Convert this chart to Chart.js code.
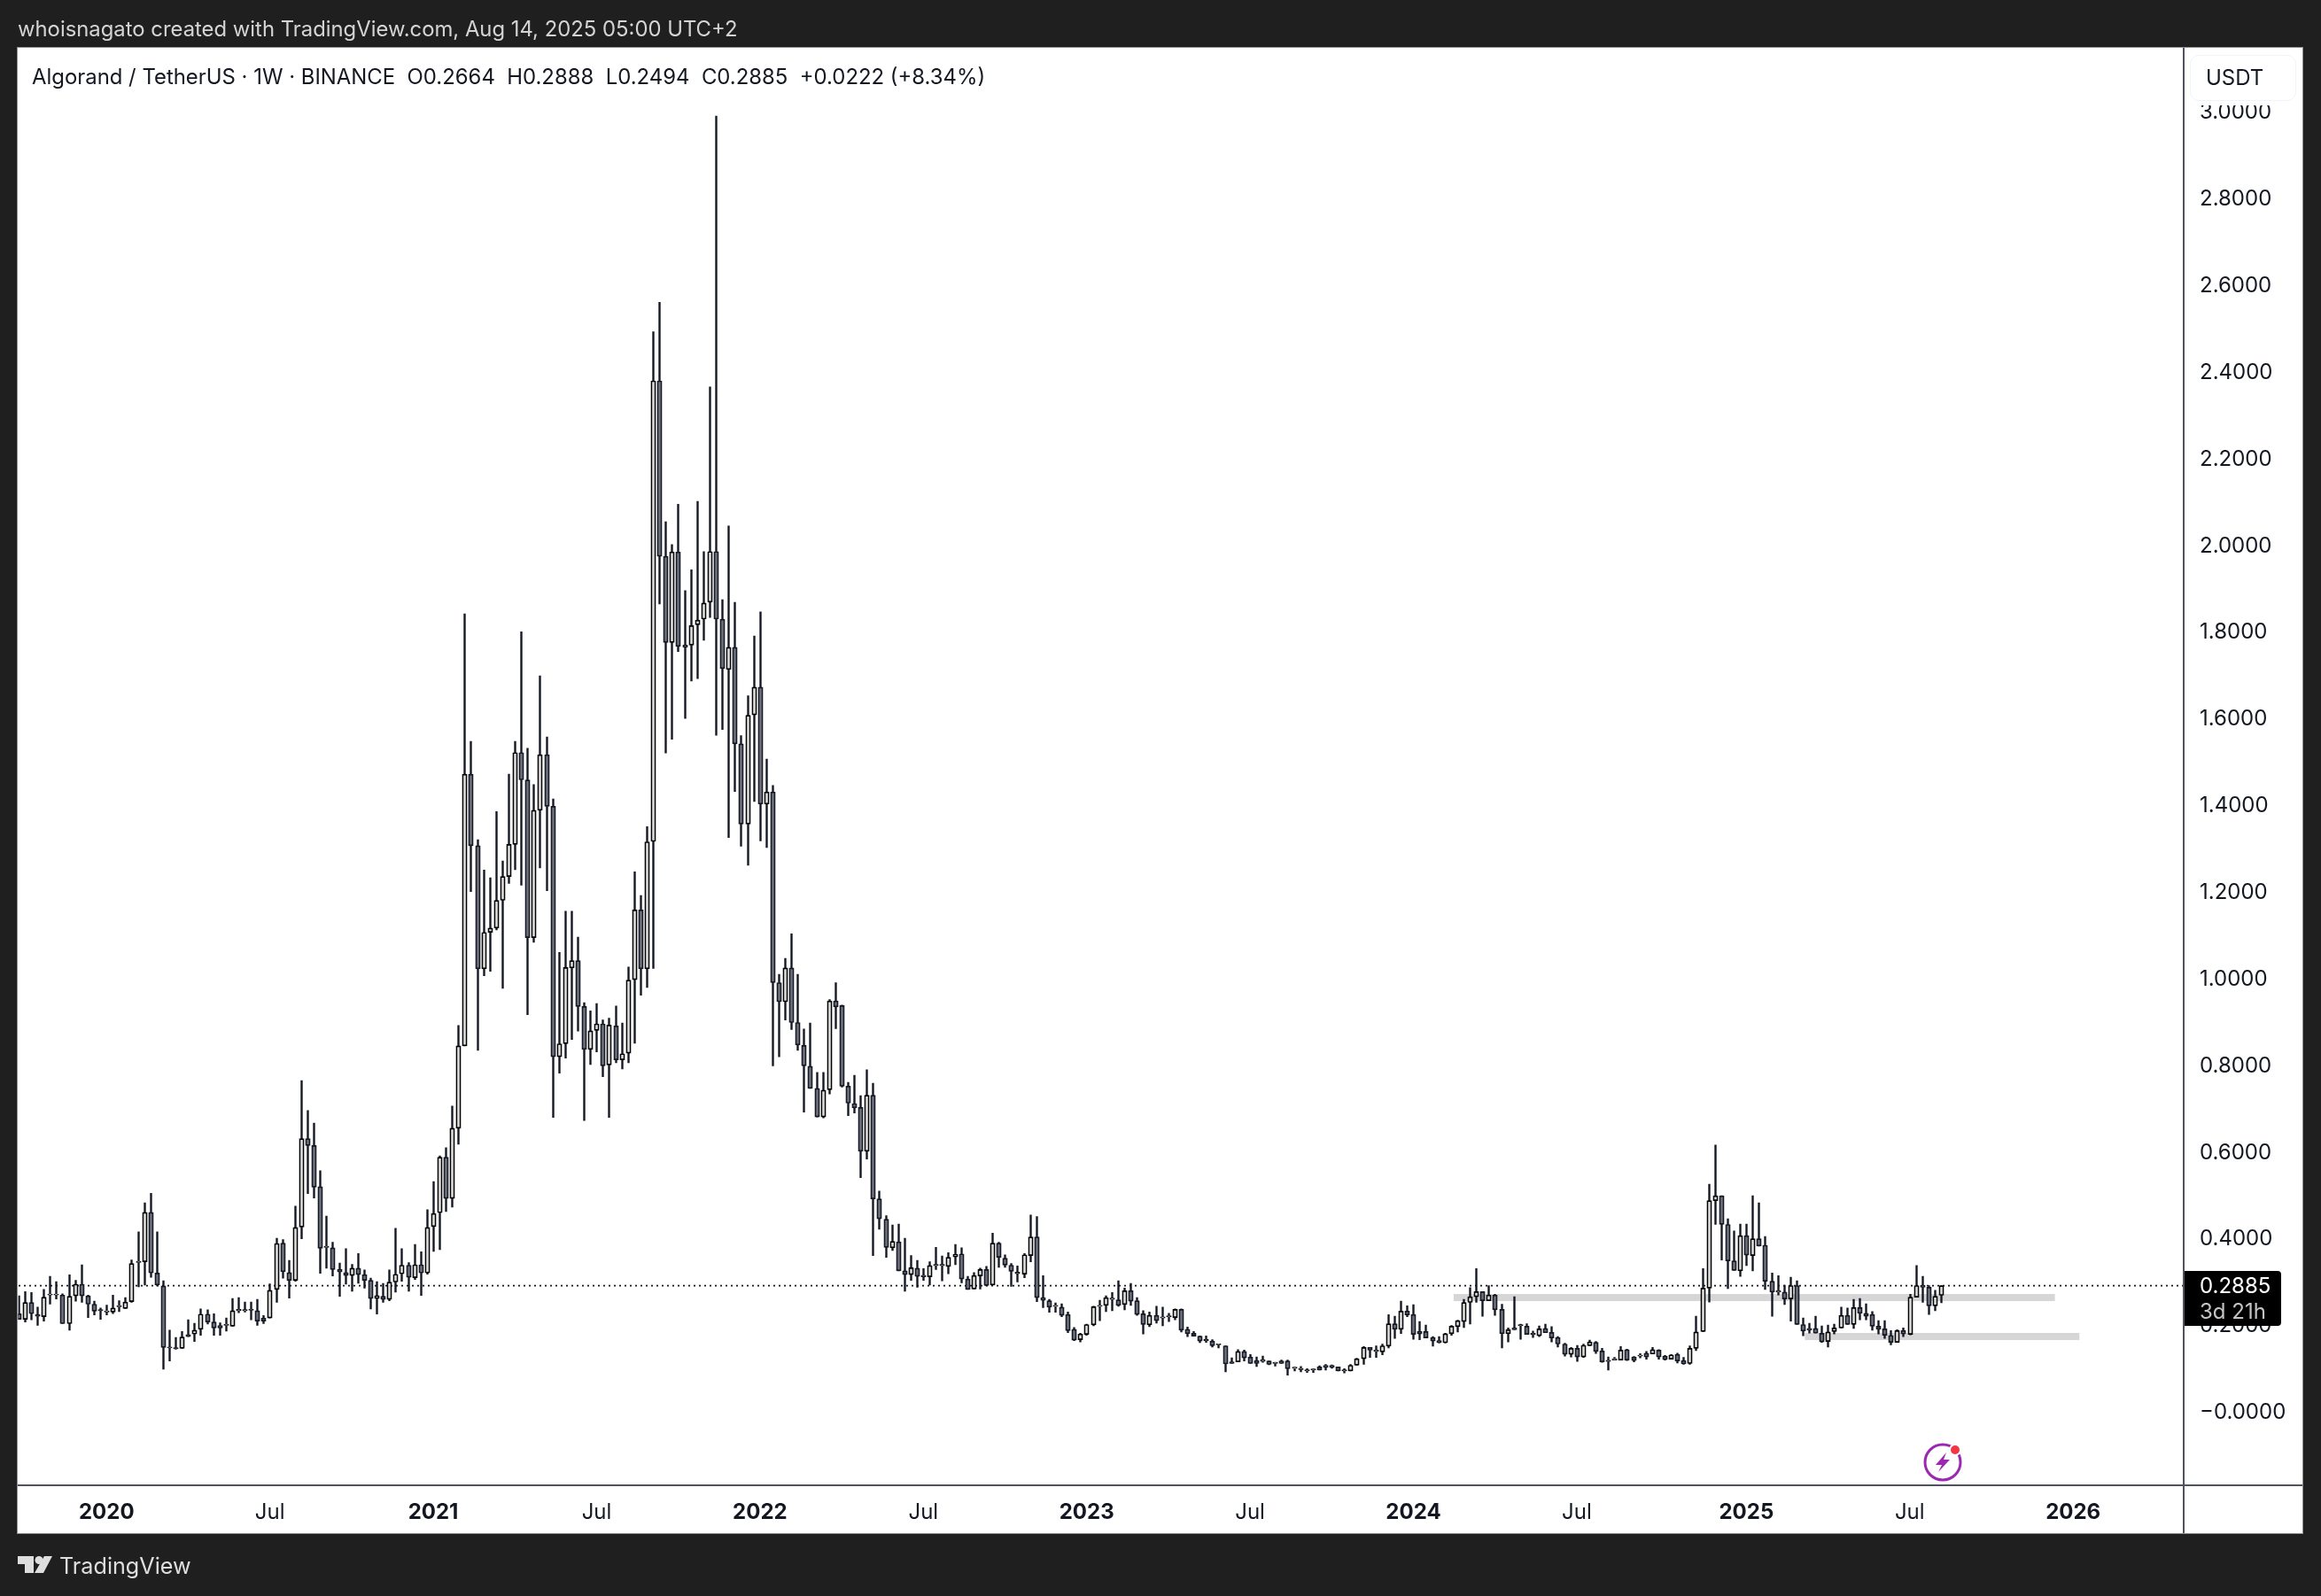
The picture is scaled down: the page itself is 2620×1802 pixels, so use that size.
<!DOCTYPE html>
<html><head><meta charset="utf-8">
<script src="https://cdn.jsdelivr.net/npm/chart.js@4"></script>
<style>
html,body{margin:0;padding:0;background:#1f1f1f;width:2620px;height:1802px;overflow:hidden}
body{position:relative;font-family:Inter,"Noto Sans",sans-serif}
.abs{position:absolute;white-space:pre}
canvas{position:absolute;left:0;top:0}
</style></head><body>
<div class="abs" style="left:20px;top:54px;width:2579px;height:1677px;background:#fff;box-shadow:0 0 0 1px #8f8f8f"></div>
<canvas id="c" width="2620" height="1802"></canvas>
<div class="abs" style="left:20px;top:1675.5px;width:2579px;height:2px;background:#50535e"></div>
<div class="abs" style="left:2464px;top:54px;width:2px;height:1677px;background:#50535e"></div>
<div class="abs" style="left:20px;top:17px;font-size:23.85px;line-height:32px;color:#d4d4d4">whoisnagato created with TradingView.com, Aug 14, 2025 05:00 UTC+2</div>
<div class="abs" style="left:36px;top:71px;font-size:23.9px;line-height:32px;color:#131722">Algorand / TetherUS · 1W · BINANCE  O0.2664  H0.2888  L0.2494  C0.2885  +0.0222 (+8.34%)</div>
<div class="abs" style="left:2472px;top:62px;width:101px;padding-left:17px;height:50px;border:1.5px solid #f0f3fa;border-radius:10px;background:#fff;box-shadow:0 0 0 5px #fff;color:#131722;font-size:24px;line-height:50px">USDT</div>
<div class="abs" style="left:2466px;top:1435px;width:109px;height:62px;background:#000;border-radius:0 4px 4px 0"></div>
<div class="abs" style="left:2483px;top:1436px;font-size:24px;line-height:31px;color:#fff">0.2885</div>
<div class="abs" style="left:2483px;top:1465px;font-size:24px;line-height:31px;color:#c4c4c4">3d 21h</div>
<div class="abs" style="left:67px;top:1750px;font-size:25.2px;line-height:36px;color:#dedede">TradingView</div>
<svg class="abs" style="left:0;top:0" width="2620" height="1802">
  <path d="M20 1757H38V1776H28V1766H20Z M50 1757H59L49 1776H39Z" fill="#dedede"/><circle cx="44" cy="1761.5" r="4.5" fill="#dedede"/>
  <circle cx="2193" cy="1651" r="20" fill="none" stroke="#9c27b0" stroke-width="3"/>
  <path d="M2197 1640L2185 1654H2192L2188 1662L2201 1648H2194Z" fill="#9c27b0"/>
  <circle cx="2207" cy="1637" r="7" fill="#fff"/><circle cx="2207" cy="1637" r="5" fill="#f23645"/>
</svg>
<script>
const opens=[.224,.211,.250,.222,.217,.267,.267,.267,.201,.265,
.292,.265,.246,.233,.228,.228,.240,.236,.252,.342,
.344,.458,.318,.288,.147,.145,.144,.176,.177,.188,
.223,.205,.197,.197,.195,.231,.231,.234,.231,.214,
.214,.280,.387,.319,.301,.424,.628,.612,.517,.377,
.376,.326,.319,.312,.329,.314,.301,.259,.264,.257,
.297,.316,.336,.307,.337,.318,.425,.457,.585,.490,
.652,.842,1.469,1.304,1.020,1.104,1.114,1.178,1.233,1.307,
1.519,1.456,1.092,1.386,1.514,1.395,.817,.847,1.022,1.039,
.933,.834,.878,.893,.798,.888,.810,.825,.995,1.156,
1.020,1.314,2.377,1.972,1.773,1.982,1.767,1.767,1.814,1.827,
1.866,1.983,1.827,1.711,1.762,1.539,1.354,1.606,1.670,1.400,
1.428,.988,.944,1.022,.896,.843,.795,.744,.678,.741,
.946,.935,.749,.709,.700,.599,.728,.489,.442,.376,
.390,.323,.314,.329,.313,.309,.335,.335,.333,.355,
.362,.304,.281,.311,.326,.290,.387,.352,.336,.316,
.315,.358,.401,.261,.254,.241,.239,.222,.188,.164,
.176,.198,.241,.243,.257,.256,.245,.277,.254,.224,
.198,.220,.214,.217,.215,.234,.188,.179,.172,.162,
.161,.152,.150,.113,.113,.137,.124,.116,.114,.115,
.109,.115,.115,.098,.095,.092,.094,.101,.105,.105,
.101,.092,.092,.105,.120,.146,.137,.136,.149,.201,
.188,.230,.222,.183,.183,.169,.162,.157,.178,.194,
.206,.250,.263,.275,.254,.267,.234,.178,.191,.196,
.195,.176,.173,.190,.181,.169,.154,.130,.144,.124,
.150,.158,.138,.114,.117,.117,.141,.124,.126,.133,
.131,.140,.126,.119,.130,.116,.109,.144,.183,.283,
.485,.496,.430,.346,.323,.404,.358,.397,.382,.299,
.274,.274,.258,.289,.199,.190,.190,.179,.160,.183,
.191,.220,.199,.238,.225,.222,.195,.189,.174,.158,
.185,.176,.262,.290,.285,.242,.2664];
const highs=[.265,.275,.273,.239,.280,.310,.298,.270,.314,.301,
.337,.267,.253,.237,.244,.267,.254,.261,.348,.413,
.480,.502,.413,.300,.186,.169,.183,.210,.202,.235,
.233,.224,.203,.214,.259,.261,.251,.251,.257,.220,
.293,.398,.395,.347,.472,.762,.693,.664,.554,.449,
.389,.341,.374,.338,.363,.325,.306,.298,.294,.325,
.421,.374,.342,.384,.367,.464,.529,.588,.607,.703,
.889,1.839,1.545,1.318,1.248,1.230,1.383,1.269,1.469,1.545,
1.798,1.529,1.445,1.696,1.555,1.412,1.058,1.153,1.153,1.093,
.942,.923,.940,.902,.906,.934,.895,1.024,1.244,1.189,
1.348,2.490,2.558,2.052,1.999,2.092,1.893,1.941,2.099,1.983,
2.363,2.988,1.872,2.042,1.866,1.558,1.650,1.788,1.844,1.504,
1.443,1.007,1.044,1.101,1.007,.881,.895,.781,.781,.949,
.988,.936,.758,.774,.727,.787,.756,.507,.450,.429,
.431,.398,.358,.347,.328,.344,.377,.357,.365,.384,
.376,.310,.319,.329,.333,.410,.389,.360,.340,.334,
.363,.452,.448,.312,.257,.249,.247,.228,.192,.179,
.200,.241,.255,.265,.273,.300,.283,.294,.261,.231,
.228,.241,.239,.225,.235,.235,.193,.183,.173,.173,
.164,.154,.150,.122,.141,.140,.130,.124,.126,.115,
.112,.117,.117,.100,.102,.097,.096,.104,.107,.106,
.101,.097,.107,.121,.148,.146,.150,.154,.222,.218,
.253,.242,.245,.206,.198,.171,.171,.179,.197,.209,
.257,.284,.328,.275,.289,.269,.246,.191,.263,.200,
.201,.184,.196,.200,.194,.171,.156,.146,.151,.154,
.163,.160,.144,.124,.123,.148,.142,.125,.132,.137,
.146,.141,.128,.130,.133,.123,.150,.218,.328,.523,
.613,.496,.443,.415,.431,.431,.496,.480,.402,.318,
.312,.290,.308,.300,.214,.202,.218,.196,.198,.200,
.239,.237,.257,.259,.247,.229,.208,.208,.185,.187,
.191,.269,.335,.310,.289,.278,.2888];
const lows=[.211,.205,.210,.197,.207,.246,.258,.201,.186,.253,
.250,.215,.221,.211,.221,.224,.229,.236,.250,.286,
.290,.308,.288,.096,.115,.142,.144,.171,.160,.174,
.200,.174,.174,.184,.195,.226,.228,.210,.197,.201,
.214,.250,.306,.260,.299,.397,.501,.491,.317,.329,
.311,.264,.292,.276,.294,.283,.235,.223,.250,.254,
.274,.299,.276,.303,.266,.315,.368,.372,.460,.470,
.615,.842,1.198,.832,1.004,1.014,1.110,.975,1.217,1.249,
1.213,.914,1.081,1.253,1.200,.677,.779,.814,.857,.876,
.670,.799,.828,.771,.677,.803,.789,.803,.848,.959,
.977,1.021,1.862,1.518,1.550,1.752,1.598,1.684,1.690,1.778,
1.831,1.559,1.572,1.323,1.429,1.303,1.259,1.406,1.315,1.300,
.796,.817,.902,.880,.832,.689,.744,.678,.676,.731,
.882,.747,.681,.687,.538,.581,.358,.419,.354,.370,
.323,.276,.301,.285,.301,.290,.326,.300,.316,.337,
.295,.280,.281,.281,.288,.290,.331,.331,.287,.297,
.307,.344,.252,.238,.227,.227,.217,.180,.162,.159,
.174,.196,.208,.229,.231,.241,.233,.243,.220,.177,
.194,.202,.196,.206,.210,.182,.171,.172,.157,.158,
.147,.145,.090,.109,.113,.115,.109,.102,.112,.106,
.103,.109,.082,.092,.090,.088,.088,.094,.094,.098,
.092,.087,.092,.105,.107,.123,.123,.129,.145,.167,
.178,.217,.165,.164,.168,.149,.156,.156,.174,.182,
.192,.200,.250,.218,.254,.220,.145,.159,.187,.165,
.176,.169,.171,.180,.159,.147,.126,.124,.114,.123,
.150,.132,.112,.094,.117,.117,.116,.113,.122,.119,
.131,.119,.117,.119,.110,.107,.107,.139,.183,.251,
.430,.348,.282,.324,.310,.335,.323,.380,.280,.218,
.267,.245,.207,.199,.173,.179,.179,.158,.147,.177,
.191,.199,.190,.210,.210,.186,.177,.167,.152,.158,
.171,.175,.262,.250,.222,.231,.2494];
const closes=[.211,.250,.224,.218,.262,.269,.269,.201,.264,.292,
.265,.246,.230,.231,.230,.237,.242,.251,.340,.344,
.458,.318,.290,.146,.145,.143,.170,.171,.186,.223,
.205,.191,.191,.199,.231,.234,.233,.232,.207,.207,
.278,.386,.321,.301,.423,.628,.612,.516,.375,.379,
.326,.320,.312,.329,.314,.301,.259,.266,.257,.297,
.315,.336,.308,.337,.318,.423,.455,.585,.490,.652,
.842,1.469,1.304,1.020,1.104,1.114,1.178,1.233,1.307,1.519,
1.456,1.092,1.386,1.514,1.395,.817,.847,1.023,1.039,.933,
.834,.877,.893,.796,.890,.810,.824,.994,1.156,1.020,
1.313,2.377,1.972,1.773,1.982,1.764,1.762,1.812,1.825,1.864,
1.983,1.827,1.713,1.762,1.539,1.354,1.605,1.670,1.400,1.428,
.988,.944,1.022,.896,.844,.796,.744,.678,.740,.946,
.932,.749,.710,.699,.599,.728,.489,.443,.377,.391,
.323,.314,.330,.310,.309,.335,.338,.338,.354,.361,
.304,.280,.312,.326,.289,.387,.354,.336,.322,.320,
.360,.401,.261,.255,.239,.243,.220,.185,.163,.177,
.199,.240,.243,.261,.260,.243,.277,.253,.222,.199,
.220,.208,.216,.219,.234,.186,.178,.172,.161,.164,
.150,.154,.108,.109,.137,.122,.109,.109,.118,.107,
.111,.109,.097,.100,.097,.094,.096,.094,.100,.100,
.092,.094,.105,.120,.146,.140,.140,.150,.201,.188,
.230,.221,.176,.177,.168,.161,.157,.178,.195,.208,
.250,.263,.275,.254,.267,.233,.178,.187,.187,.199,
.176,.179,.189,.180,.168,.154,.130,.144,.124,.151,
.159,.137,.113,.116,.120,.140,.117,.116,.128,.124,
.141,.124,.118,.129,.115,.108,.144,.182,.283,.485,
.496,.430,.346,.324,.404,.359,.397,.380,.299,.274,
.277,.258,.289,.199,.184,.186,.179,.159,.182,.191,
.220,.199,.238,.225,.218,.195,.188,.174,.158,.185,
.177,.262,.289,.285,.242,.264,.2885];
const xTickWeeks=[14,40,66,92,118,144,170,196,222,248,275,301,327];
const xTickLabels=['2020','Jul','2021','Jul','2022','Jul','2023','Jul','2024','Jul','2025','Jul','2026'];
const priceTicks=[0,.2,.4,.6,.8,1,1.2,1.4,1.6,1.8,2,2.2,2.4,2.6,2.8,3];
const lastPrice=0.2885;
const zoneWeeks=[[228.4,324.1],[284.3,328.0]];
const zonePrices=[[0.2694,0.2531],[0.1795,0.1631]];
const UP_FILL='#d9d9d9',UP_EDGE='#000000',DOWN_FILL='#6b6e79',DOWN_EDGE='#131722';

const isUp=i=>closes[i]>=opens[i];
const zonesPlugin={id:'zones',
  afterDatasetsUpdate(ch){ // keep every candle on the pixel grid, as the reference does
    ch.data.datasets.forEach((d,i)=>{ if(d.type!=='bar')return;
      ch.getDatasetMeta(i).data.forEach(el=>{el.x=Math.floor(el.x+0.3)+0.5;}); });
  },
  beforeDatasetsDraw(ch){
    const {ctx,scales:{x,y},chartArea:a}=ch;ctx.save();ctx.fillStyle='#d6d6d6';
    ctx.beginPath();ctx.rect(a.left,a.top,a.width,a.height);ctx.clip();
    zoneWeeks.forEach((w,i)=>{const x0=x.getPixelForValue(w[0]),x1=x.getPixelForValue(w[1]),
      y0=y.getPixelForValue(zonePrices[i][0]),y1=y.getPixelForValue(zonePrices[i][1]);
      ctx.fillRect(x0,y0,x1-x0,y1-y0);});
    ctx.restore();},
  afterLayout(ch){ // nudge the price labels to the reference's text baseline
    const s=ch.scales.y; if(s._nudged)return; s._nudged=true;
    const orig=s.drawLabels.bind(s);
    s.drawLabels=a=>{ch.ctx.save();ch.ctx.translate(0,2);orig(a);ch.ctx.restore();};
  }};

new Chart(document.getElementById('c'),{
  data:{datasets:[
    {type:'line',label:'Last',data:[{x:0,y:lastPrice},{x:344.6,y:lastPrice}],order:5,
     borderColor:'#131722',borderWidth:1.7,borderDash:[2,4],pointRadius:0,fill:false},
    {type:'bar',label:'Wick',grouped:false,order:4,barThickness:1.7,backgroundColor:'#131722',borderWidth:0,
     data:highs.map((h,i)=>({x:i,y:[lows[i],h]}))},
    {type:'bar',label:'Body',grouped:false,order:3,barThickness:5.4,minBarLength:1.2,borderSkipped:false,borderWidth:1.7,
     backgroundColor:opens.map((_,i)=>isUp(i)?UP_FILL:DOWN_FILL),
     borderColor:opens.map((_,i)=>isUp(i)?UP_EDGE:DOWN_EDGE),
     data:opens.map((o,i)=>({x:i,y:[o,closes[i]]}))}
  ]},
  plugins:[zonesPlugin],
  options:{responsive:false,animation:false,devicePixelRatio:1,
    layout:{padding:{left:20.5,top:54,right:21,bottom:71}},
    plugins:{legend:{display:false},tooltip:{enabled:false},title:{display:false}},
    scales:{
      x:{type:'linear',offset:false,min:-0.07,max:344.6,grid:{display:false,offset:false,drawTicks:false},border:{display:false},
        afterBuildTicks(s){s.ticks=xTickWeeks.map(v=>({value:v}));},
        afterFit(s){s.height=54.5;},
        ticks:{autoSkip:false,maxRotation:0,padding:17,color:'#131722',
          font:c=>({family:'Inter',size:24,weight:(c.tick&&xTickLabels[xTickWeeks.indexOf(c.tick.value)]==='Jul')?'400':'700'}),
          callback:v=>xTickLabels[xTickWeeks.indexOf(v)]}},
      y:{type:'linear',position:'right',min:-0.171,max:3.1455,grid:{display:false,drawTicks:false},border:{display:false},
        afterBuildTicks(s){s.ticks=priceTicks.map(v=>({value:v}));},
        afterFit(s){s.width=134;},
        ticks:{autoSkip:false,padding:18,color:'#131722',font:{family:'Inter',size:24},
          callback:v=>v===0?'\u22120.0000':v.toFixed(4)}}
    }}
});
</script></body></html>
